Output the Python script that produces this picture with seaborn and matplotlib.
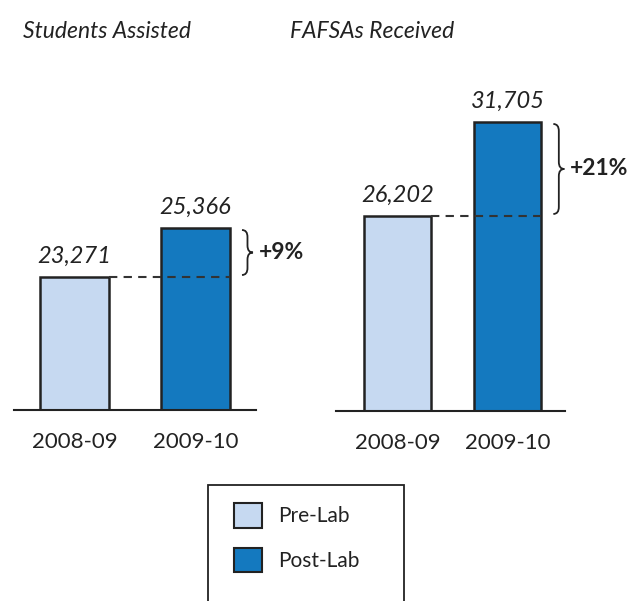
import matplotlib
matplotlib.use("Agg")
import matplotlib.pyplot as plt
import seaborn as sns
import pandas as pd
from matplotlib.patches import Patch, Rectangle, PathPatch
from matplotlib.path import Path

# ---- data ----
years = ["2008-09", "2009-10"]
periods = ["Pre-Lab", "Post-Lab"]
students = [23271, 25366]
fafsas = [26202, 31705]
titles = ["Students Assisted", "FAFSAs Received"]
changes = ["+9%", "+21%"]
colors = ["#C6D9F1", "#1479BF"]

sns.set_theme(style="white")
plt.rcParams['font.family'] = ['Lato', 'DejaVu Sans']

INK = "#222222"
fig = plt.figure(figsize=(6.43, 6.01), dpi=100)
W, H = 643, 601
ax1 = fig.add_axes([14 / W, 191 / H, 242 / W, 350 / H])
ax2 = fig.add_axes([336 / W, 190 / H, 229 / W, 351 / H])

panels = [
    (ax1, students, (17585, 32549), (-0.5, 1.5), 0.57, changes[0]),
    (ax2, fafsas, (14784, 35334), (-0.56, 1.52), 0.61, changes[1]),
]


def brace(ax, xd, y0, y1, gap=12, w=11, inset=2, r=7):
    tr = ax.transData
    bx, by0 = tr.transform((xd, y0))
    _, by1 = tr.transform((xd, y1))
    x = bx + gap
    top = by1 - inset
    bot = by0 + inset
    m = (top + bot) / 2
    xm = x + w / 2
    verts = [
        (x, top), (xm, top), (xm, top - r),
        (xm, m + r),
        (xm, m), (x + w, m),
        (xm, m), (xm, m - r),
        (xm, bot + r),
        (xm, bot), (x, bot),
    ]
    codes = [Path.MOVETO, Path.CURVE3, Path.CURVE3,
             Path.LINETO,
             Path.CURVE3, Path.CURVE3,
             Path.CURVE3, Path.CURVE3,
             Path.LINETO,
             Path.CURVE3, Path.CURVE3]
    inv = tr.inverted()
    dverts = inv.transform(verts)
    p = PathPatch(Path(dverts, codes), fill=False, ec=INK, lw=1.3,
                  transform=tr, clip_on=False)
    ax.add_patch(p)
    tip = inv.transform((x + w, m))
    return tip


for ax, vals, ylim, xlim, bw, chg in panels:
    df = pd.DataFrame({"year": years, "value": vals, "period": periods})
    sns.barplot(data=df, x="year", y="value", hue="period", palette=colors,
                hue_order=periods, width=bw, dodge=False, saturation=1,
                edgecolor=INK, linewidth=1.8, legend=False, ax=ax)
    ax.set_ylim(*ylim)
    ax.set_xlim(*xlim)
    for s in ["top", "left", "right"]:
        ax.spines[s].set_visible(False)
    ax.spines["bottom"].set_color(INK)
    ax.spines["bottom"].set_linewidth(1.5)
    ax.set_yticks([])
    ax.set_xlabel("")
    ax.set_ylabel("")
    ax.tick_params(axis="x", length=0, pad=16, labelsize=16, colors=INK)
    for c in ax.containers:
        ax.bar_label(c, fmt="{:,.0f}", padding=7, fontstyle="italic",
                     fontsize=17, color=INK)
    half = bw / 2
    ax.plot([0 + half, 1 + half], [vals[0], vals[0]], ls=(0, (4, 3)),
            color="#333333", lw=1.5, zorder=5, clip_on=False)
    tip = brace(ax, 1 + half, vals[0], vals[1])
    ax.annotate(chg, xy=tip, xytext=(4, 0), textcoords="offset points",
                ha="left", va="center", fontweight="bold", fontsize=16.5,
                color=INK, annotation_clip=False)

fig.text(23 / W, 1 - 32 / H, titles[0], fontstyle="italic", fontsize=16.5,
         va="center", ha="left", color=INK)
fig.text(290 / W, 1 - 32 / H, titles[1], fontstyle="italic", fontsize=16.5,
         va="center", ha="left", color=INK)

handles = [Patch(facecolor=colors[i], edgecolor=INK, linewidth=1.5)
           for i in range(2)]
fs = 15
fpx = fs * 100 / 72
fig.legend(handles=handles, labels=periods, loc="upper left",
           bbox_to_anchor=(234 / W, 1 - 503 / H), frameon=False,
           fontsize=fs, borderpad=0, borderaxespad=0,
           handlelength=28 / fpx, handleheight=30 / fpx,
           labelspacing=20 / fpx, handletextpad=16 / fpx, labelcolor=INK)
fig.add_artist(Rectangle((208 / W, -0.1), (404 - 208) / W, (1 - 485 / H) + 0.1,
                         transform=fig.transFigure, fill=False, ec=INK, lw=1.3))

fig.savefig("out.png", dpi=100)
